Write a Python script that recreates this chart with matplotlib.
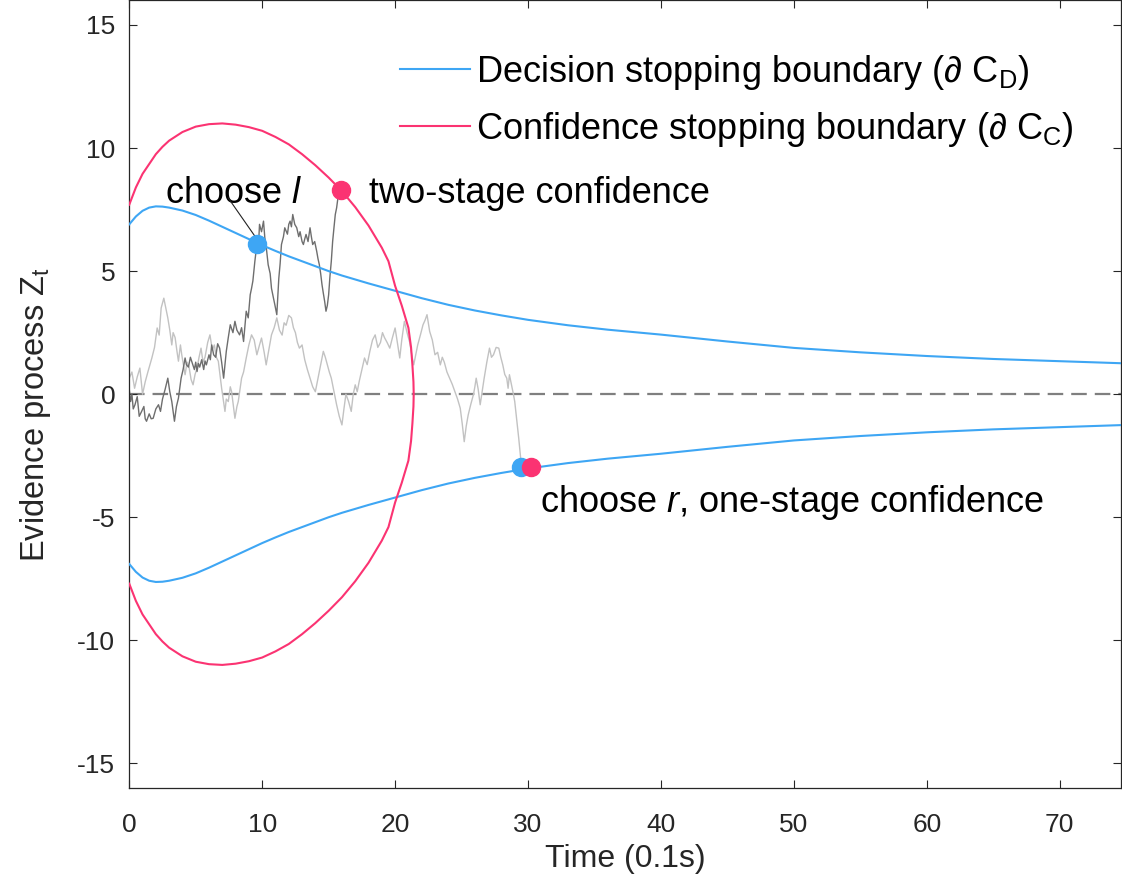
import numpy as np
import matplotlib
matplotlib.use("Agg")
import matplotlib.pyplot as plt

plt.rcParams['font.family'] = ['Liberation Sans', 'DejaVu Sans']
plt.rcParams['mathtext.fontset'] = 'custom'
plt.rcParams['mathtext.rm'] = 'Liberation Sans'
plt.rcParams['mathtext.it'] = 'Liberation Sans:italic'
plt.rcParams['axes.unicode_minus'] = False

# decision stopping boundary (upper half, lower half is the mirror)
dec_t = [0, 0.5, 1, 1.5, 2, 2.5, 3, 4, 5, 6, 7, 8, 9, 10, 11, 12, 13, 14, 15, 16,
         18, 20, 22, 24, 26, 28, 30, 33, 36, 40, 45, 50, 55, 60, 65, 70, 75]
dec_z = [6.9, 7.22, 7.45, 7.58, 7.63, 7.62, 7.58, 7.46, 7.28, 7.05, 6.8, 6.55, 6.3, 6.05,
         5.82, 5.6, 5.4, 5.2, 5.0, 4.82, 4.5, 4.2, 3.9, 3.63, 3.4, 3.2, 3.02, 2.8, 2.62,
         2.42, 2.14, 1.88, 1.7, 1.55, 1.43, 1.34, 1.25]

# confidence stopping boundary (upper half)
conf_t = [0, 0.5, 1, 1.5, 2, 2.5, 3, 4, 5, 6, 7, 8, 9, 10, 11, 12, 13, 14, 15, 16, 17,
          18, 19, 19.5, 20, 20.5, 21, 21.2, 21.3, 21.38, 21.4]
conf_z = [7.7, 8.4, 8.95, 9.35, 9.75, 10.05, 10.3, 10.65, 10.87, 10.97, 11.0, 10.95,
          10.85, 10.7, 10.45, 10.15, 9.75, 9.3, 8.8, 8.25, 7.6, 6.85, 5.95, 5.4, 4.4,
          3.6, 2.7, 1.9, 1.2, 0.5, 0.0]

# evidence trace 1 (choose l, two-stage confidence), (t, z) pairs
trace1 = [(0, 0.2), (0.1, -0.3), (0.2, 0.0), (0.3, -0.6), (0.43, -0.43), (0.6, -0.1),
          (0.75, -0.9), (0.93, -0.7), (1.1, -0.5), (1.2, -1.0), (1.3, -1.1), (1.5, -0.8),
          (1.65, -1.0), (1.8, -0.98), (2.0, -0.6), (2.2, -0.43), (2.35, -0.7), (2.5, -0.2),
          (2.7, 0.2), (2.9, 0.65), (3.05, 0.1), (3.2, -0.3), (3.4, -1.1), (3.55, -0.5),
          (3.7, -0.16), (3.9, 0.65), (4.05, 1.0), (4.2, 1.47), (4.3, 1.2), (4.45, 1.1),
          (4.6, 1.5), (4.7, 1.33), (4.9, 1.0), (5.0, 1.3), (5.1, 0.92), (5.2, 1.25),
          (5.3, 1.1), (5.45, 1.4), (5.6, 1.0), (5.7, 1.35), (5.8, 1.19), (6.0, 1.6),
          (6.1, 1.4), (6.2, 2.0), (6.35, 1.6), (6.5, 1.5), (6.65, 2.05), (6.8, 1.87),
          (6.95, 1.3), (7.1, 0.65), (7.2, 1.2), (7.3, 1.74), (7.45, 2.3), (7.6, 2.82),
          (7.8, 2.5), (7.95, 2.96), (8.1, 2.6), (8.3, 2.41), (8.45, 2.7), (8.6, 2.14),
          (8.8, 3.37), (8.95, 3.1), (9.1, 4.04), (9.2, 4.3), (9.3, 4.6), (9.45, 5.4),
          (9.6, 6.08), (9.7, 5.8), (9.8, 6.9), (9.95, 6.6), (10.1, 7.03), (10.2, 6.35),
          (10.3, 6.0), (10.45, 5.26), (10.6, 4.9), (10.7, 4.3), (10.85, 3.9), (10.95, 3.64),
          (11.1, 3.23), (11.25, 4.7), (11.35, 5.3), (11.45, 6.08), (11.6, 6.4), (11.7, 6.76),
          (11.9, 6.5), (12.0, 6.9), (12.1, 7.03), (12.2, 6.8), (12.3, 7.3), (12.45, 6.9),
          (12.6, 6.76), (12.75, 6.4), (12.85, 6.6), (13.0, 6.2), (13.1, 6.08), (13.2, 6.3),
          (13.3, 6.49), (13.45, 6.2), (13.6, 6.76), (13.7, 6.4), (13.8, 6.08), (13.95, 6.2),
          (14.1, 5.81), (14.2, 5.5), (14.3, 5.26), (14.4, 4.9), (14.5, 4.45), (14.6, 4.1),
          (14.7, 3.77), (14.8, 3.37), (14.9, 3.6), (15.0, 4.04), (15.1, 4.8), (15.2, 5.4),
          (15.3, 6.2), (15.4, 6.76), (15.5, 7.3), (15.6, 7.57), (15.7, 7.98), (15.9, 8.25)]

# evidence trace 2 (choose r, one-stage confidence), (t, z) pairs
trace2 = [(0, 0.65), (0.2, 0.9), (0.4, 0.24), (0.6, 0.7), (0.8, 1.06), (1.0, 0.0),
          (1.2, 0.5), (1.4, 0.9), (1.7, 1.47), (1.9, 1.9), (2.1, 2.69), (2.25, 2.4),
          (2.4, 3.5), (2.6, 3.9), (2.75, 3.5), (2.9, 3.1), (3.05, 2.6), (3.2, 2.0),
          (3.3, 2.5), (3.45, 2.3), (3.6, 1.7), (3.7, 1.34), (3.85, 2.0), (3.95, 1.6),
          (4.1, 1.1), (4.2, 0.79), (4.35, 1.3), (4.5, 1.1), (4.65, 0.6), (4.8, 0.38),
          (4.95, 0.8), (5.1, 1.06), (5.25, 1.5), (5.4, 1.87), (5.55, 1.3), (5.7, 1.5),
          (5.9, 2.1), (6.07, 2.41), (6.25, 1.8), (6.4, 2.0), (6.55, 1.5), (6.7, 1.34),
          (6.95, 0.24), (7.2, -0.7), (7.3, -0.2), (7.45, -0.3), (7.6, 0.3), (7.7, 0.1),
          (7.95, -0.98), (8.1, -0.5), (8.2, -0.3), (8.45, 0.65), (8.6, 0.9), (8.8, 1.47),
          (9.0, 2.0), (9.2, 2.41), (9.4, 2.2), (9.6, 1.6), (9.8, 2.0), (9.95, 2.28),
          (10.15, 1.7), (10.3, 1.19), (10.5, 1.8), (10.7, 2.41), (10.9, 2.7), (11.1, 3.1),
          (11.3, 2.6), (11.5, 2.4), (11.65, 2.9), (11.8, 2.8), (12.0, 3.2), (12.2, 3.1),
          (12.35, 2.7), (12.5, 2.5), (12.65, 2.1), (12.8, 1.87), (13.0, 2.0), (13.2, 1.4),
          (13.4, 1.0), (13.6, 0.65), (13.8, 0.3), (14.0, 0.1), (14.2, 0.65), (14.4, 1.2),
          (14.6, 1.74), (14.75, 1.5), (14.9, 1.2), (15.05, 0.9), (15.2, 0.65), (15.4, 0.1),
          (15.6, -0.43), (15.8, -0.9), (16.0, -1.25), (16.15, -0.6), (16.3, 0.0),
          (16.5, -0.3), (16.7, -0.7), (16.85, 0.0), (17.0, 0.38), (17.15, 0.1), (17.3, 0.52),
          (17.5, 1.0), (17.7, 1.47), (17.9, 1.2), (18.1, 1.74), (18.3, 2.2), (18.5, 2.41),
          (18.7, 1.9), (18.9, 2.1), (19.05, 2.5), (19.2, 2.3), (19.4, 2.1), (19.6, 1.87),
          (19.8, 2.3), (20.0, 2.69), (20.2, 2.0), (20.35, 1.47), (20.5, 2.2), (20.7, 2.96),
          (20.9, 2.5), (21.1, 2.1), (21.25, 1.6), (21.4, 1.19), (21.55, 1.6), (21.7, 2.0),
          (21.9, 2.4), (22.1, 2.82), (22.25, 3.0), (22.4, 3.23), (22.5, 2.9), (22.6, 2.55),
          (22.8, 2.2), (23.0, 1.6), (23.2, 1.7), (23.4, 1.19), (23.55, 1.5), (23.7, 1.3),
          (23.9, 0.9), (24.1, 0.65), (24.3, 0.4), (24.5, 0.1), (24.7, -0.2), (24.9, -0.57),
          (25.05, -1.2), (25.2, -1.93), (25.35, -1.3), (25.5, -0.84), (25.7, -0.4),
          (25.9, 0.0), (26.0, 0.3), (26.1, 0.65), (26.25, 0.2), (26.4, -0.43), (26.55, 0.1),
          (26.7, 0.65), (26.9, 1.3), (27.1, 1.87), (27.25, 1.5), (27.4, 1.6), (27.6, 1.9),
          (27.8, 1.87), (27.95, 1.5), (28.1, 1.19), (28.25, 0.8), (28.4, 0.65), (28.5, 0.24),
          (28.6, 0.79), (28.75, 0.4), (28.9, 0.0), (29.0, -0.3), (29.3, -1.79), (29.5, -2.9)]

# stopping points
dec1 = (9.6, 6.12)
conf1 = (15.9, 8.3)
dec2 = (29.5, -2.97)
conf2 = (30.2, -2.97)

blue = '#3ea6f4'
pink = '#fb3372'

fig = plt.figure(figsize=(11.22, 8.93), dpi=100)
ax = fig.add_axes([0.1152, 0.1176, 0.8838, 0.882])

dec_t = np.array(dec_t)
dec_z = np.array(dec_z)
conf_t = np.array(conf_t)
conf_z = np.array(conf_z)
ell_t = np.concatenate([conf_t, conf_t[::-1]])
ell_z = np.concatenate([conf_z, -conf_z[::-1]])
tr1 = np.array(trace1)
tr2 = np.array(trace2)

ax.axhline(0, color='#7f7f7f', lw=1.6, ls=(0, (7, 3.6)), zorder=1)
ax.plot(tr2[:, 0], tr2[:, 1], color='#c2c2c2', lw=1.0, zorder=2)
ax.plot(tr1[:, 0], tr1[:, 1], color='#6e6e6e', lw=1.0, zorder=2)
ax.plot(dec_t, dec_z, color=blue, lw=1.5, label='Decision stopping boundary (∂ C$_\\mathregular{D}$)', zorder=3)
ax.plot(dec_t, -dec_z, color=blue, lw=1.5, zorder=3)
ax.plot(ell_t, ell_z, color=pink, lw=1.5, label='Confidence stopping boundary (∂ C$_\\mathregular{C}$)', zorder=3)

ax.plot(*dec1, 'o', color=blue, ms=13, zorder=5)
ax.plot(*conf1, 'o', color=pink, ms=13, zorder=5)
ax.plot(*dec2, 'o', color=blue, ms=13, zorder=5)
ax.plot(*conf2, 'o', color=pink, ms=13, zorder=6)

ax.plot([7.45, 9.45], [7.97, 6.42], color='#222222', lw=0.8, zorder=4)
ax.text(2.7, 7.78, 'choose $\\mathit{l}$', fontsize=26, va='baseline', ha='left')
ax.text(18.0, 7.78, 'two-stage confidence', fontsize=26, va='baseline', ha='left')
ax.text(30.9, -4.79, 'choose $\\mathit{r}$, one-stage confidence', fontsize=26,
        va='baseline', ha='left')

ax.set_xlim(0, 74.6)
ax.set_ylim(-16, 16)
ax.set_xticks(np.arange(0, 71, 10))
ax.set_yticks(np.arange(-15, 16, 5))
ax.tick_params(direction='in', length=6, width=0.8, top=True, right=True,
               labelsize=19, colors='#262626')
ax.tick_params(axis='x', pad=18)
ax.tick_params(axis='y', pad=10)
for s in ax.spines.values():
    s.set_color('#262626')
    s.set_linewidth(0.9)

ax.set_xlabel('Time (0.1s)', fontsize=23, color='#262626', labelpad=5)
ax.set_ylabel('Evidence process Z$_\\mathregular{t}$', fontsize=23.5, color='#262626')
ax.yaxis.set_label_coords(-0.077, 0.474)

ax.legend(loc='upper left', bbox_to_anchor=(0.258, 0.952), frameon=False, fontsize=26,
          handlelength=1.94, handletextpad=0.17, labelspacing=0.5, borderaxespad=0)

fig.savefig('out.png', dpi=100)
